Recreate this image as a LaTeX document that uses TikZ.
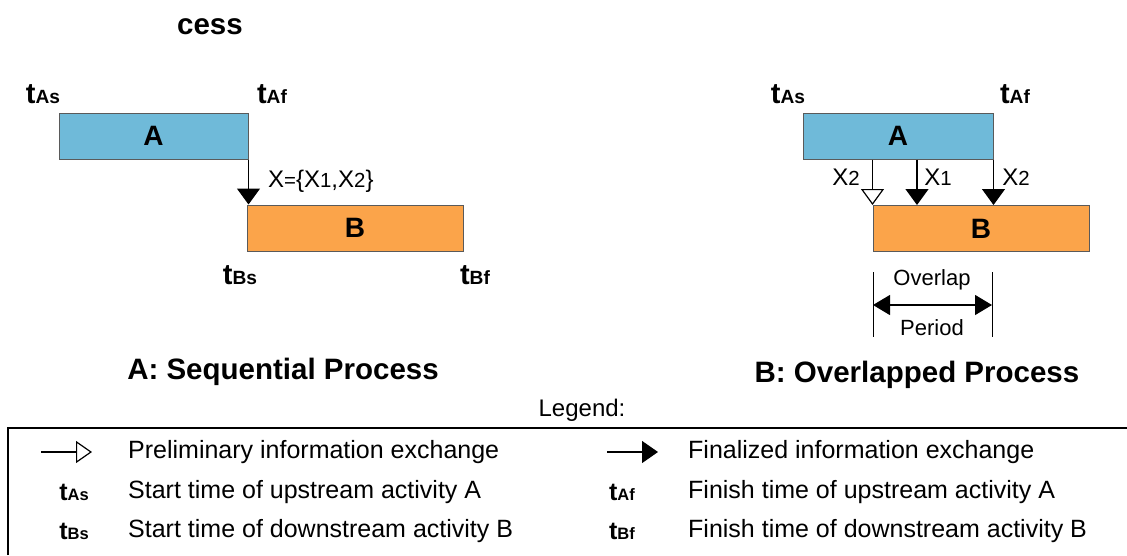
\documentclass[tikz,border=0pt]{standalone}
\usepackage{fontspec}
\setmainfont{Liberation Sans}
\usetikzlibrary{arrows.meta}

\definecolor{actA}{RGB}{111,186,217}
\definecolor{actB}{RGB}{251,164,74}
\definecolor{boxline}{RGB}{90,90,90}

% time mark: bold t with smaller bold subscript
\newcommand{\tmark}[1]{\textbf{t}\textbf{\scalebox{0.66}{#1}}}
\newcommand{\xsub}[1]{X\scalebox{0.85}{#1}}

\tikzset{
  fin/.style={-{Triangle[width=23pt,length=16pt]},line width=1.2pt},
  pre/.style={-{Triangle[open,width=23pt,length=16pt]},line width=1.2pt},
  actbox/.style={draw=boxline,line width=1pt,minimum height=46pt,inner sep=0pt,
    font=\fontsize{28}{28}\selectfont\bfseries},
  tbig/.style={inner sep=0pt,font=\fontsize{29}{29}\selectfont},
  tsmall/.style={inner sep=0pt,font=\fontsize{25}{25}\selectfont},
  lbl/.style={inner sep=0pt,font=\fontsize{22}{22}\selectfont},
  xlbl/.style={inner sep=0pt,font=\fontsize{24}{24}\selectfont},
  title/.style={inner sep=0pt,font=\fontsize{29.5}{29.5}\selectfont\bfseries},
  legtext/.style={inner sep=0pt,anchor=west,font=\fontsize{25}{25}\selectfont}
}

\begin{document}
\begin{tikzpicture}[x=1pt,y=-1pt]
\useasboundingbox (0,0) rectangle (1127,555);

% A: sequential
\begin{scope}
\node[title] (cut) at (210,27) {cess};
\node[actbox,fill=actA,minimum width=189pt] (seqA) at (153.5,136) {A};
\node[actbox,fill=actB,minimum width=216pt] (seqB) at (355,228) {B};
\node[tbig] (sAs) at (43,94) {\tmark{As}};
\node[tbig] (sAf) at (272,94) {\tmark{Af}};
\node[tbig] (sBs) at (240,275) {\tmark{Bs}};
\node[tbig] (sBf) at (475,275) {\tmark{Bf}};
\draw[fin] (seqA.south east) -- (seqA.south east |- seqB.north);
\node[xlbl,anchor=west] (seqx) at (268,181) {\xsub{=}\{\xsub{1},\xsub{2}\}};
\node[title] (seqt) at (283,372) {A: Sequential Process};
\end{scope}

% B: overlapped
\begin{scope}
\node[actbox,fill=actA,minimum width=190pt] (ovA) at (898,136) {A};
\node[actbox,fill=actB,minimum width=216pt] (ovB) at (981,228.5) {B};
\node[tbig] (oAs) at (788,94) {\tmark{As}};
\node[tbig] (oAf) at (1015,94) {\tmark{Af}};
\coordinate (ov1) at (917,0);
\draw[pre] (ovB.north west |- ovA.south) -- (ovB.north west);
\draw[fin] (ov1 |- ovA.south) -- (ov1 |- ovB.north);
\draw[fin] (ovA.south east) -- (ovA.south east |- ovB.north);
\node[xlbl] (ox2a) at (846,177) {\xsub{2}};
\node[xlbl] (ox1) at (938,177) {\xsub{1}};
\node[xlbl] (ox2b) at (1016,177) {\xsub{2}};
\coordinate (olL) at (873,272);
\coordinate (olR) at (992,272);
\draw[line width=1pt] (olL) -- ++(0,65);
\draw[line width=1pt] (olR) -- ++(0,65);
\draw[{Triangle[width=20pt,length=17pt]}-{Triangle[width=20pt,length=17pt]},line width=1.2pt]
  ([yshift=-33pt]olL) -- ([yshift=-33pt]olR);
\node[lbl] (olt) at (932,280) {Overlap};
\node[lbl] (olb) at (932,328) {Period};
\node[title] (ovt) at (917,375) {B: Overlapped Process};
\end{scope}

% legend
\node[inner sep=0pt,font=\fontsize{24}{24}\selectfont] (leg) at (582,410) {Legend:};
\draw[line width=1.2pt] (8,555) -- (8,428) -- (1127,428);
\coordinate (pa) at (41,452);
\coordinate (fa) at (607,452);
\draw[-{Triangle[open,width=22pt,length=16pt]},line width=1.2pt] (pa) -- ++(51,0);
\draw[-{Triangle[width=22pt,length=16pt]},line width=1.2pt] (fa) -- ++(51,0);
\node[legtext] (lpre) at (128,452) {Preliminary information exchange};
\node[legtext] (lfin) at (688,452) {Finalized information exchange};
\node[tsmall] (lAs) at (74,492) {\tmark{As}};
\node[tsmall] (lAf) at (622,492) {\tmark{Af}};
\node[tsmall] (lBs) at (74,531) {\tmark{Bs}};
\node[tsmall] (lBf) at (622,531) {\tmark{Bf}};
\node[legtext] (tAs) at (128,492) {Start time of upstream activity A};
\node[legtext] (tAf) at (688,492) {Finish time of upstream activity A};
\node[legtext] (tBs) at (128,531) {Start time of downstream activity B};
\node[legtext] (tBf) at (688,531) {Finish time of downstream activity B};
\end{tikzpicture}
\end{document}
